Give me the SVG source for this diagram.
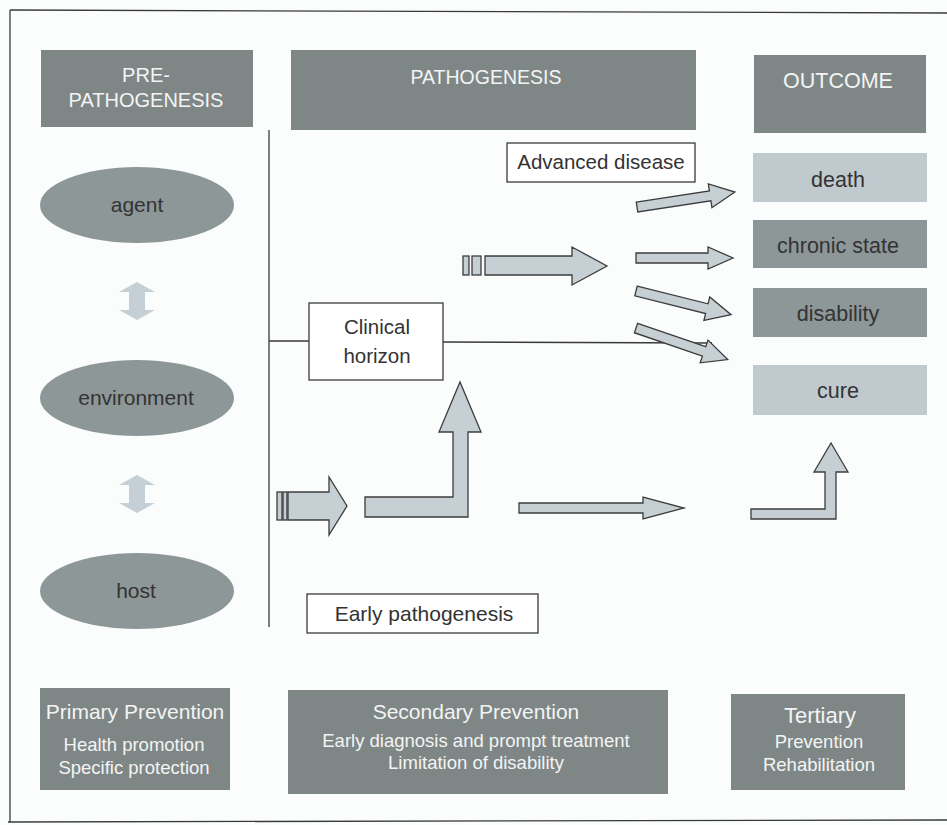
<svg xmlns="http://www.w3.org/2000/svg" width="947" height="825" viewBox="0 0 947 825">
<style>
.t{font-family:"Liberation Sans",Arial,sans-serif;text-anchor:middle}
.dark{fill:#7e8786}
.mid{fill:#8e9797}
.light{fill:#c0c9cd}
.w{fill:#f4f4f4}
.k{fill:#333333}
.box{fill:#ffffff;stroke:#3a3a3a;stroke-width:1.3}
.arr{fill:#c6cfd3;stroke:#3c3c3c;stroke-width:1.3;stroke-linejoin:miter}
.dbl{fill:#c5d0d6}
.ln{stroke:#3a3a3a;stroke-width:1.3;fill:none}
</style>
<rect x="0" y="0" width="947" height="825" fill="#fbfcfc"/>
<g id="frame">
<line class="ln" x1="10" y1="10" x2="947" y2="13" stroke-width="1.6"/>
<line class="ln" x1="10" y1="10" x2="10" y2="822" stroke-width="1.6"/>
<line class="ln" x1="8" y1="822" x2="947" y2="820" stroke-width="2.5"/>
</g>
<g id="hdr-pre"><rect class="dark" x="41" y="50" width="212" height="77"/>
<text class="t w" x="146" y="82" font-size="20">PRE-</text>
<text class="t w" x="146" y="107" font-size="20">PATHOGENESIS</text></g>
<g id="hdr-path"><rect class="dark" x="291" y="50" width="405" height="80"/>
<text class="t w" x="486" y="84" font-size="19.5">PATHOGENESIS</text></g>
<g id="hdr-out"><rect class="dark" x="754" y="55" width="172" height="78"/>
<text class="t w" x="838" y="88" font-size="21.5">OUTCOME</text></g>

<g id="agent"><ellipse class="mid" cx="137" cy="205" rx="97" ry="38"/>
<text class="t k" x="137" y="212" font-size="21">agent</text></g>
<g id="environment"><ellipse class="mid" cx="137" cy="398" rx="97" ry="38"/>
<text class="t k" x="136" y="405" font-size="21">environment</text></g>
<g id="host"><ellipse class="mid" cx="137" cy="591" rx="97" ry="38"/>
<text class="t k" x="136" y="598" font-size="21">host</text></g>

<g id="death"><rect class="light" x="753" y="153" width="174" height="49"/>
<text class="t k" x="838" y="187" font-size="21.5">death</text></g>
<g id="chronic"><rect class="mid" x="753" y="220" width="174" height="48"/>
<text class="t k" x="838" y="253" font-size="21.5">chronic state</text></g>
<g id="disability"><rect class="mid" x="753" y="288" width="174" height="49"/>
<text class="t k" x="838" y="321" font-size="21.5">disability</text></g>
<g id="cure"><rect class="light" x="753" y="365" width="174" height="50"/>
<text class="t k" x="838" y="398" font-size="21.5">cure</text></g>

<g id="connectors">
<line class="ln" x1="269" y1="130" x2="269" y2="627"/>
<line class="ln" x1="269" y1="341" x2="309" y2="341"/>
<line class="ln" x1="443" y1="342" x2="712" y2="343"/>
<polygon class="dbl" points="137,282 155,292 145,292 145,310 155,310 137,320 119,310 129,310 129,292 119,292"/>
<polygon class="dbl" points="137,475 155,485 145,485 145,503 155,503 137,513 119,503 129,503 129,485 119,485"/>
<rect class="arr" x="463" y="256" width="6" height="19"/>
<rect class="arr" x="472" y="256" width="9" height="19"/>
<polygon class="arr" points="485,256 572,256 572,247 607,266 572,285 572,275 485,275"/>
<polygon class="arr" transform="translate(637,207) rotate(-8.7)" points="0,-5 74,-5 74,-12 99,0 74,12 74,5 0,5"/>
<polygon class="arr" transform="translate(636,258)" points="0,-5 72,-5 72,-11 97,0 72,11 72,5 0,5"/>
<polygon class="arr" transform="translate(636,291) rotate(14)" points="0,-5 73,-5 73,-12 98,0 73,12 73,5 0,5"/>
<polygon class="arr" transform="translate(636,328) rotate(19)" points="0,-5 72,-5 72,-12 97,0 72,12 72,5 0,5"/>
<rect class="arr" x="277" y="492" width="5" height="28"/>
<rect class="arr" x="283" y="492" width="4" height="28"/>
<polygon class="arr" points="288,492 329,492 329,477 347,506 329,535 329,520 288,520"/>
<polygon class="arr" points="365,497 453,497 453,432 439,432 460,382 481,432 468,432 468,517 365,517"/>
<polygon class="arr" points="519,503 643,503 643,497 684,508 643,519 643,513 519,513"/>
<polygon class="arr" points="751,509 825,509 825,472 814,472 831,443 848,472 836,472 836,519 751,519"/>
</g>

<g id="advanced"><rect class="box" x="507" y="143" width="188" height="39"/>
<text class="t k" x="601" y="169" font-size="20.5">Advanced disease</text></g>
<g id="clinical"><rect class="box" x="309" y="303" width="134" height="77"/>
<text class="t k" x="377" y="334" font-size="20.5">Clinical</text>
<text class="t k" x="377" y="363" font-size="20.5">horizon</text></g>
<g id="early"><rect class="box" x="307" y="594" width="231" height="39"/>
<text class="t k" x="424" y="621" font-size="21">Early pathogenesis</text></g>

<g id="primary"><rect class="dark" x="40" y="688" width="190" height="102"/>
<text class="t w" x="135" y="719" font-size="21">Primary Prevention</text>
<text class="t w" x="134" y="751" font-size="18.5">Health promotion</text>
<text class="t w" x="134" y="774" font-size="18.5">Specific protection</text></g>
<g id="secondary"><rect class="dark" x="288" y="690" width="380" height="104"/>
<text class="t w" x="476" y="719" font-size="21">Secondary Prevention</text>
<text class="t w" x="476" y="747" font-size="18.5">Early diagnosis and prompt treatment</text>
<text class="t w" x="476" y="769" font-size="18.5">Limitation of disability</text></g>
<g id="tertiary"><rect class="dark" x="731" y="694" width="174" height="96"/>
<text class="t w" x="820" y="723" font-size="22">Tertiary</text>
<text class="t w" x="819" y="748" font-size="18.5">Prevention</text>
<text class="t w" x="819" y="771" font-size="18.5">Rehabilitation</text></g>
</svg>
